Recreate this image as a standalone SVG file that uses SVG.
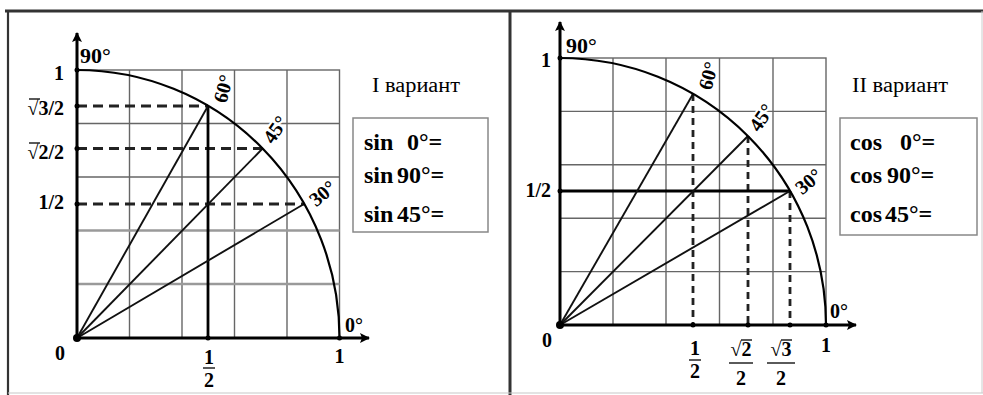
<svg xmlns="http://www.w3.org/2000/svg" width="983" height="395" viewBox="0 0 983 395">
<defs>
<marker id="arr" viewBox="0 0 10 10" refX="9" refY="5" markerWidth="10" markerHeight="10" markerUnits="userSpaceOnUse" orient="auto">
<path d="M0,0 L10,5 L0,10 L2,5 z" fill="#000"/>
</marker>
<style>
.frame{stroke:#333;fill:none}
.grid{stroke:#666;stroke-width:1.4;fill:none}
.gridl{stroke:#9a9a9a;stroke-width:2.4;fill:none}
.axis{stroke:#000;stroke-width:3;fill:none}
.arc{stroke:#000;stroke-width:2.2;fill:none}
.ray{stroke:#111;stroke-width:1.9;fill:none}
.dash{stroke:#222;stroke-width:2.8;stroke-dasharray:10 6;fill:none}
.dashv{stroke:#222;stroke-width:2.8;stroke-dasharray:7 5;fill:none}
.solid{stroke:#000;stroke-width:2.8;fill:none}
.box{stroke:#888;stroke-width:1.5;fill:#fff}
.bar{stroke:#000;stroke-width:1.3}
text{font-family:"Liberation Serif","Times New Roman",serif;fill:#000}
.lab{font-size:20px;font-weight:bold}
.big{font-size:22px;font-weight:bold}
.deg{font-size:20px;font-weight:bold;paint-order:stroke;stroke:#fff;stroke-width:4px;stroke-linejoin:round}
.var{font-size:20px}
.eq{font-size:24px;font-weight:bold}
.tick{fill:#000}
</style>
</defs>
<rect width="983" height="395" fill="#fff"/>
<g id="frame">
<line class="frame" x1="5" y1="11" x2="983" y2="11" stroke-width="3"/>
<line class="frame" x1="8" y1="11" x2="8" y2="395" stroke-width="2.2"/>
<line class="frame" x1="510" y1="11" x2="510" y2="395" stroke-width="3" stroke="#555"/>
<line x1="8" y1="393" x2="983" y2="393" stroke="#c8c8c8" stroke-width="1.2"/>
<line x1="982" y1="11" x2="982" y2="393" stroke="#ccc" stroke-width="1"/>
</g>

<!-- LEFT PANEL -->
<g id="left-grid">
<rect class="grid" x="77" y="70" width="262.5" height="268"/>
<line class="grid" x1="129.5" y1="70" x2="129.5" y2="338"/>
<line class="grid" x1="182" y1="70" x2="182" y2="338"/>
<line class="grid" x1="234.5" y1="70" x2="234.5" y2="338"/>
<line class="grid" x1="287" y1="70" x2="287" y2="338"/>
<line class="grid" x1="77" y1="123.5" x2="339.5" y2="123.5"/>
<line class="grid" x1="77" y1="177" x2="339.5" y2="177"/>
<line class="gridl" x1="77" y1="230.5" x2="339.5" y2="230.5"/>
<line class="gridl" x1="77" y1="284" x2="339.5" y2="284"/>
</g>
<g id="left-lines">
<line class="dash" x1="77" y1="106" x2="208" y2="106"/>
<line class="dash" x1="77" y1="148.5" x2="262.6" y2="148.5"/>
<line class="dash" x1="77" y1="204" x2="304" y2="204"/>
<line class="solid" x1="208" y1="106" x2="208" y2="338"/>
<line class="ray" x1="77" y1="338" x2="208" y2="106"/>
<line class="ray" x1="77" y1="338" x2="262.6" y2="148.5"/>
<line class="ray" x1="77" y1="338" x2="304" y2="204"/>
<path class="arc" d="M77,70 A262.5,268 0 0 1 339.5,338"/>
</g>
<g id="left-axes">
<line class="axis" x1="77" y1="340" x2="77" y2="33" marker-end="url(#arr)"/>
<line class="axis" x1="75" y1="338" x2="369" y2="338" marker-end="url(#arr)"/>
<circle class="tick" cx="77" cy="338" r="4"/>
<circle class="tick" cx="77" cy="70" r="2.5"/>
<circle class="tick" cx="77" cy="106" r="2.5"/>
<circle class="tick" cx="77" cy="148.5" r="2.5"/>
<circle class="tick" cx="77" cy="204" r="2.5"/>
<circle class="tick" cx="208" cy="338" r="2.5"/>
<circle class="tick" cx="339.5" cy="338" r="2.5"/>
</g>
<g id="left-labels">
<text class="big" x="80" y="63">90°</text>
<text class="lab" x="64" y="80" text-anchor="end">1</text>
<text class="lab" x="64" y="115" text-anchor="end">√3/2</text>
<line class="bar" x1="29" y1="99" x2="40" y2="99"/>
<text class="lab" x="64" y="159" text-anchor="end">√2/2</text>
<line class="bar" x1="29" y1="143" x2="40" y2="143"/>
<text class="lab" x="64" y="209" text-anchor="end">1/2</text>
<text class="lab" x="60" y="360" text-anchor="middle">0</text>
<text class="lab" x="209" y="364" text-anchor="middle">1</text>
<line class="bar" x1="203" y1="368" x2="215" y2="368"/>
<text class="lab" x="209" y="387" text-anchor="middle">2</text>
<text class="lab" x="339.5" y="363" text-anchor="middle">1</text>
<text class="lab" x="345" y="332">0°</text>
<text class="deg" transform="translate(224,89) rotate(-75)" text-anchor="middle" y="6">60°</text>
<text class="deg" transform="translate(276,130) rotate(-55)" text-anchor="middle" y="6">45°</text>
<text class="deg" transform="translate(323,194) rotate(-40)" text-anchor="middle" y="6">30°</text>
</g>
<g id="left-task">
<text class="var" x="372" y="92" textLength="88" lengthAdjust="spacingAndGlyphs">I вариант</text>
<rect class="box" x="353" y="118" width="135" height="114"/>
<text class="eq" x="364" y="150">sin<tspan x="407">0°=</tspan></text>
<text class="eq" x="364" y="183">sin<tspan x="397">90°=</tspan></text>
<text class="eq" x="364" y="222">sin<tspan x="397">45°=</tspan></text>
</g>

<!-- RIGHT PANEL -->
<g id="right-grid">
<rect class="grid" x="560" y="58" width="266" height="267"/>
<line class="grid" x1="613" y1="58" x2="613" y2="325"/>
<line class="grid" x1="666" y1="58" x2="666" y2="325"/>
<line class="grid" x1="719.5" y1="58" x2="719.5" y2="325"/>
<line class="grid" x1="773" y1="58" x2="773" y2="325"/>
<line class="grid" x1="560" y1="111.4" x2="826" y2="111.4"/>
<line class="grid" x1="560" y1="164.8" x2="826" y2="164.8"/>
<line class="grid" x1="560" y1="218.2" x2="826" y2="218.2"/>
<line class="grid" x1="560" y1="271.6" x2="826" y2="271.6"/>
</g>
<g id="right-lines">
<line class="dashv" x1="693" y1="94" x2="693" y2="325"/>
<line class="dashv" x1="748" y1="136" x2="748" y2="325"/>
<line class="dashv" x1="790" y1="191" x2="790" y2="325"/>
<line class="solid" x1="560" y1="191" x2="790" y2="191"/>
<line class="ray" x1="560" y1="325" x2="693" y2="94"/>
<line class="ray" x1="560" y1="325" x2="748" y2="136"/>
<line class="ray" x1="560" y1="325" x2="790" y2="191"/>
<path class="arc" d="M560,58 A266,267 0 0 1 826,325"/>
</g>
<g id="right-axes">
<line class="axis" x1="560" y1="327" x2="560" y2="22" marker-end="url(#arr)"/>
<line class="axis" x1="558" y1="325" x2="856" y2="325" marker-end="url(#arr)"/>
<circle class="tick" cx="560" cy="325" r="4"/>
<circle class="tick" cx="560" cy="58" r="2.5"/>
<circle class="tick" cx="560" cy="191" r="2.5"/>
<circle class="tick" cx="693" cy="325" r="2.5"/>
<circle class="tick" cx="748" cy="325" r="2.5"/>
<circle class="tick" cx="790" cy="325" r="2.5"/>
<circle class="tick" cx="826" cy="325" r="2.5"/>
</g>
<g id="right-labels">
<text class="big" x="566" y="53">90°</text>
<text class="lab" x="551" y="67" text-anchor="end">1</text>
<text class="lab" x="551" y="197" text-anchor="end">1/2</text>
<text class="lab" x="547" y="347" text-anchor="middle">0</text>
<text class="lab" x="695" y="355" text-anchor="middle">1</text>
<line class="bar" x1="689" y1="360" x2="701" y2="360"/>
<text class="lab" x="695" y="378" text-anchor="middle">2</text>
<text class="lab" x="741" y="356" text-anchor="middle">√2</text>
<line class="bar" x1="741" y1="340" x2="752" y2="340"/>
<line class="bar" x1="729" y1="363" x2="753" y2="363"/>
<text class="lab" x="741" y="385" text-anchor="middle">2</text>
<text class="lab" x="781" y="356" text-anchor="middle">√3</text>
<line class="bar" x1="781" y1="340" x2="792" y2="340"/>
<line class="bar" x1="767" y1="363" x2="795" y2="363"/>
<text class="lab" x="781" y="385" text-anchor="middle">2</text>
<text class="lab" x="826" y="352" text-anchor="middle">1</text>
<text class="lab" x="830" y="318">0°</text>
<text class="deg" transform="translate(709,76) rotate(-75)" text-anchor="middle" y="6">60°</text>
<text class="deg" transform="translate(762,118) rotate(-55)" text-anchor="middle" y="6">45°</text>
<text class="deg" transform="translate(809,182) rotate(-40)" text-anchor="middle" y="6">30°</text>
</g>
<g id="right-task">
<text class="var" x="852" y="92" textLength="96" lengthAdjust="spacingAndGlyphs">II вариант</text>
<rect class="box" x="840" y="118" width="137" height="117"/>
<text class="eq" x="850" y="150">cos<tspan x="900">0°=</tspan></text>
<text class="eq" x="850" y="183">cos<tspan x="887">90°=</tspan></text>
<text class="eq" x="850" y="222">cos<tspan x="885">45°=</tspan></text>
</g>
</svg>
